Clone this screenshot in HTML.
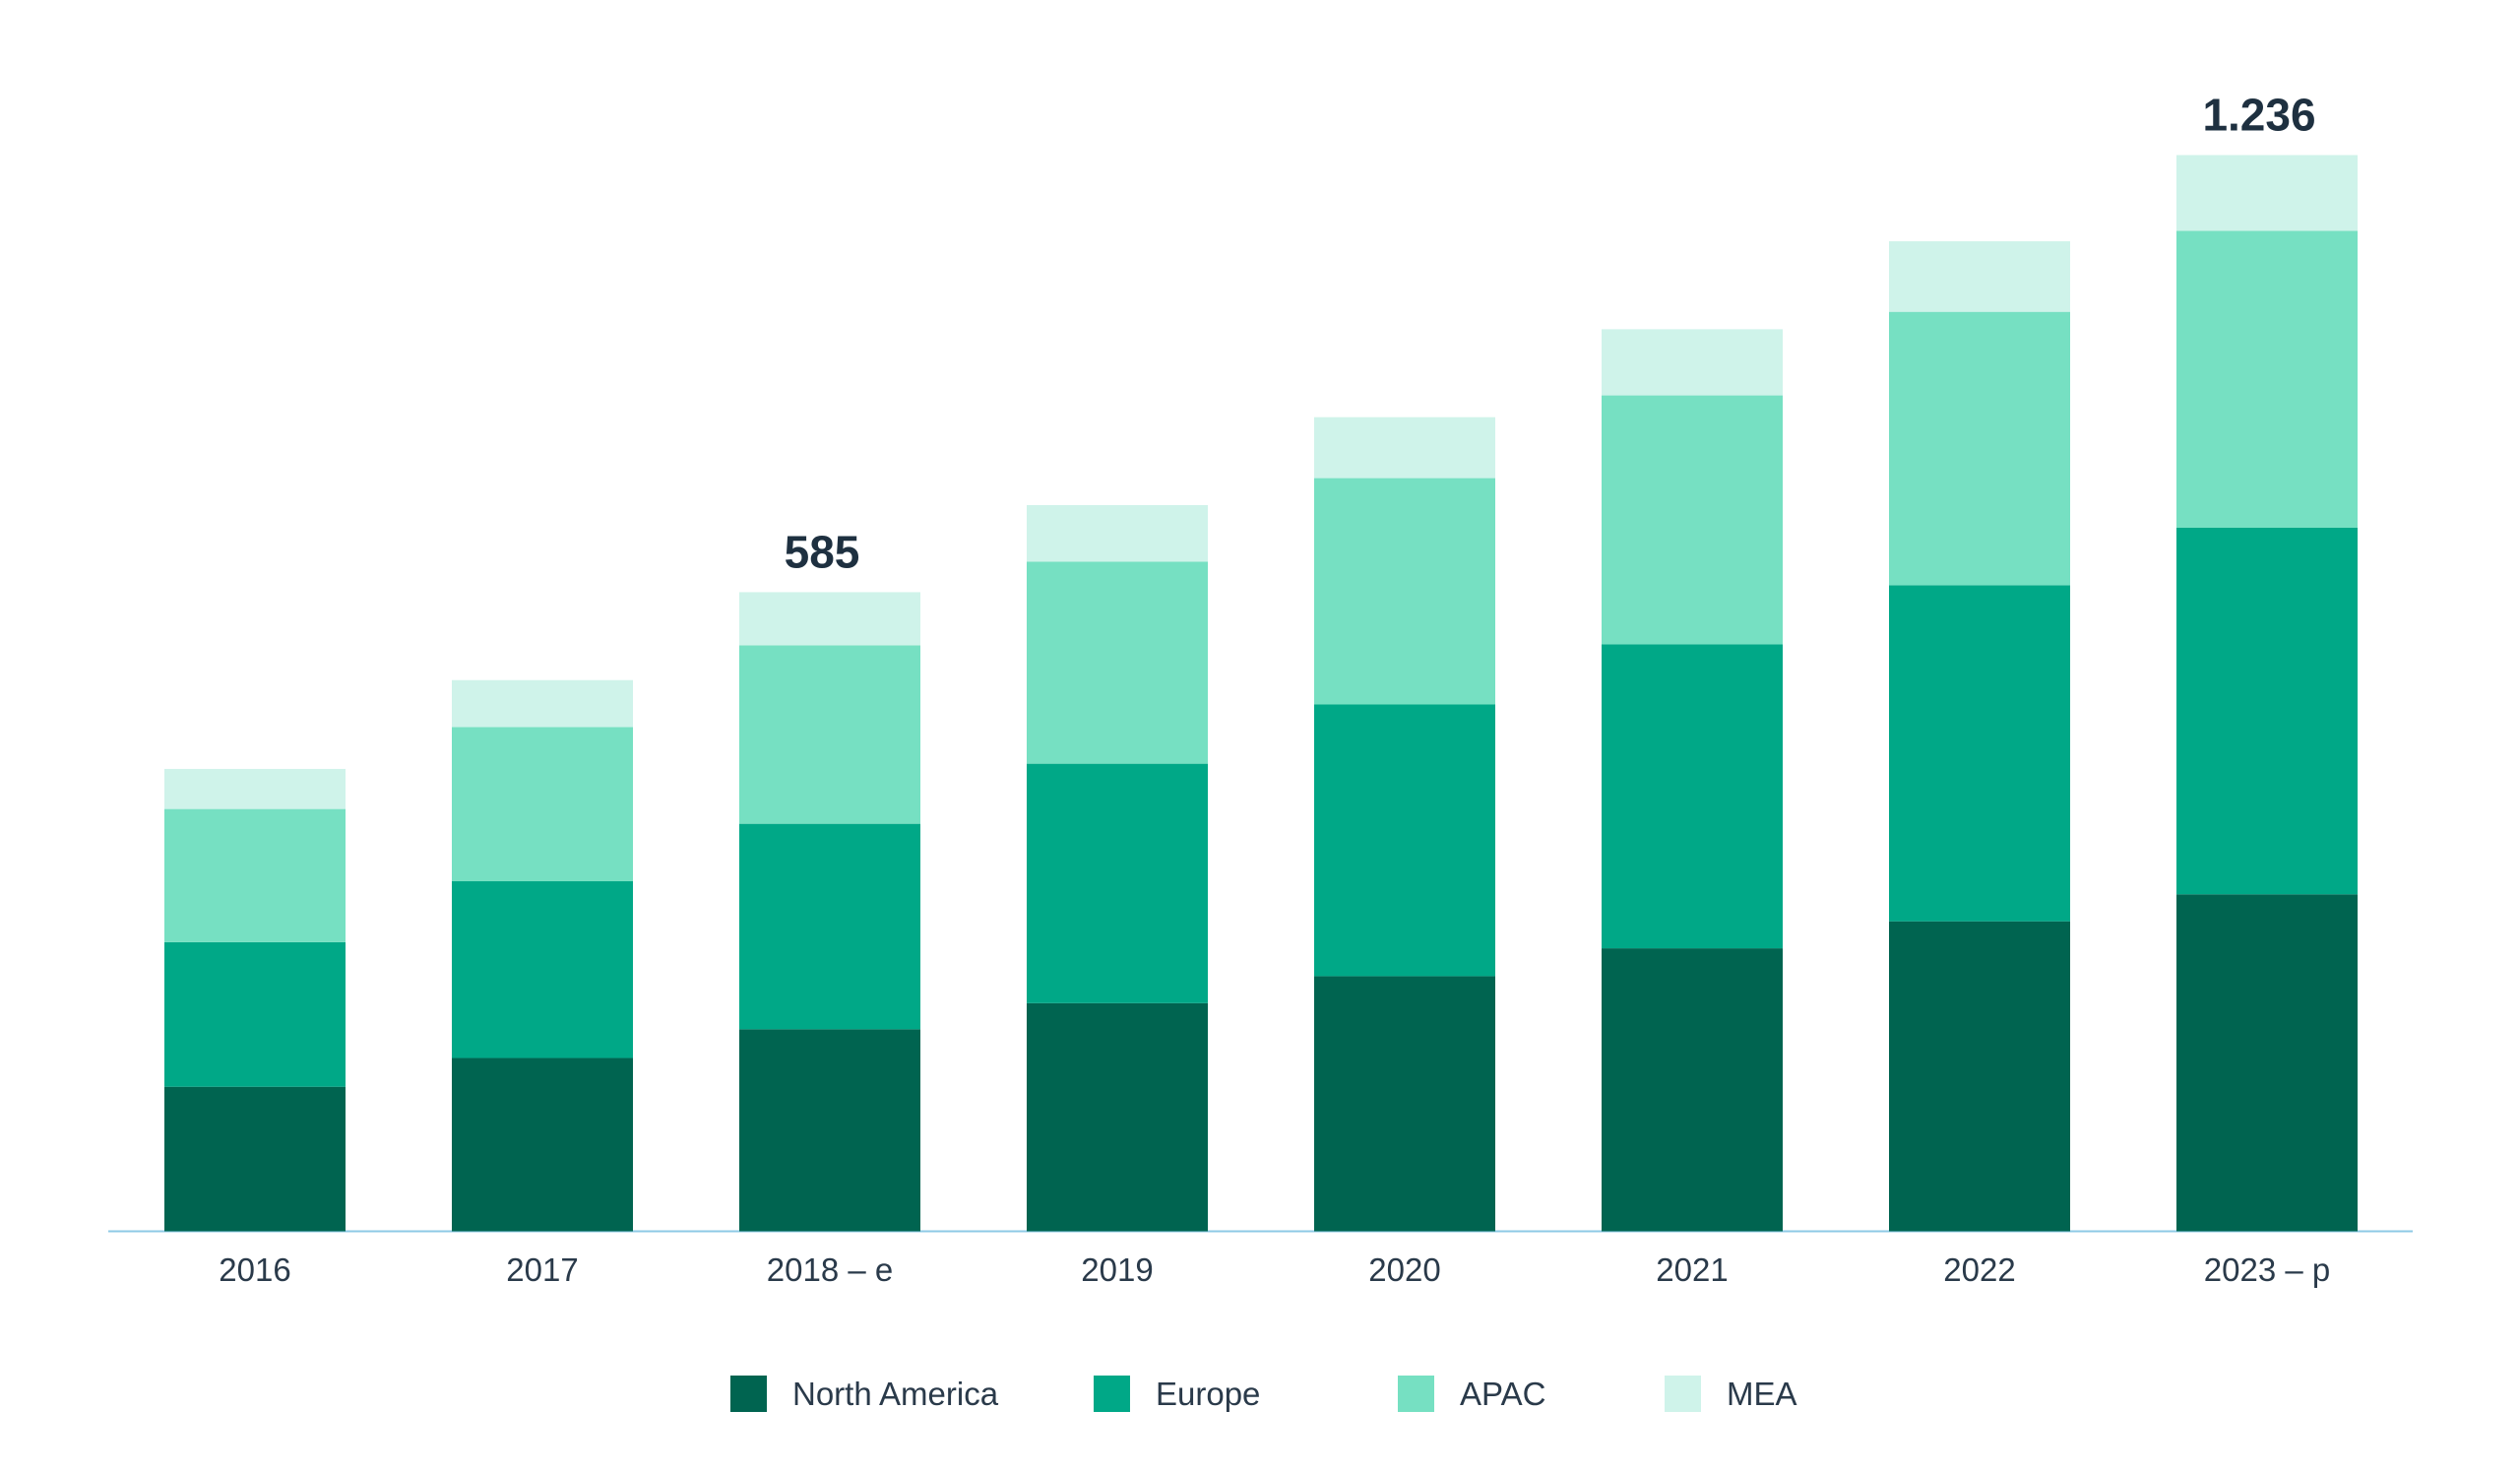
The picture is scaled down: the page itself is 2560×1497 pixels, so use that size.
<!DOCTYPE html>
<html><head><meta charset="utf-8"><style>
html,body{margin:0;padding:0;background:#fff;}
svg{display:block;font-family:"Liberation Sans",sans-serif;}
</style></head><body>
<svg id="chart" width="2560" height="1497" viewBox="0 0 2560 1497" xmlns="http://www.w3.org/2000/svg">
<line x1="110" y1="1250.5" x2="2451" y2="1250.5" stroke="#8ecae6" stroke-width="2"/>
<g id="bars"></g>
<g id="xlabels"></g>
<g id="vlabels"></g>
<g id="legend"></g>
</svg>
<script>
const categories = ["2016","2017","2018 – e","2019","2020","2021","2022","2023 – p"];
const northAmerica = [166,199,232,262,293,325,356,387];
const europe = [166,203,236,275,312,349,386,421];
const apac = [153,177,205,232,260,286,314,341];
const mea = [46,54,61,65,70,76,81,87];
const seriesNames = ["North America","Europe","APAC","MEA"];
const annotations = [{i:2,text:"585"},{i:7,text:"1.236"}];

const colors = ["#006450","#00a887","#76e0c2","#cff3ea"];
const series = [northAmerica, europe, apac, mea];
const NS = "http://www.w3.org/2000/svg";
const baseY = 1250.5, plotH = 1093, maxV = 1236;
const firstX = 167, step = 292, barW = 184;
function y(v){ return baseY - v/maxV*plotH; }
function xc(i){ return firstX + barW/2 + i*step; }
function mk(tag, attrs, parent){
  const el = document.createElementNS(NS, tag);
  for (const k in attrs) el.setAttribute(k, attrs[k]);
  parent.appendChild(el); return el;
}
const gb = document.getElementById("bars");
const gx = document.getElementById("xlabels");
const gv = document.getElementById("vlabels");
const gl = document.getElementById("legend");
const tops = [];
categories.forEach((c, i) => {
  let cum = 0;
  series.forEach((s, j) => {
    const r = mk("rect", {x: xc(i)-barW/2, y: y(cum + s[i]), width: barW, height: y(cum) - y(cum + s[i]), fill: colors[j]}, gb);
    
    
    cum += s[i];
  });
  tops.push(cum);
  const t = mk("text", {x: xc(i), y: 1301, "text-anchor": "middle", "font-size": 33, fill: "#2a3a4a"}, gx);
  t.textContent = c;
  
  
});
annotations.forEach(a => {
  const t = mk("text", {x: xc(a.i)-8, y: y(tops[a.i]) - 25, "text-anchor": "middle", "font-size": 46, "font-weight": "bold", fill: "#1e3040"}, gv);
  t.textContent = a.text;
  
  
});
const legX = [742, 1111, 1420, 1691];
seriesNames.forEach((n, j) => {
  const r = mk("rect", {x: legX[j], y: 1397, width: 37, height: 37, fill: colors[j]}, gl);
  
  
  const t = mk("text", {x: legX[j] + 63, y: 1427, "font-size": 33, fill: "#2a3a4a"}, gl);
  t.textContent = n;
  
  
});
</script>
</body></html>
